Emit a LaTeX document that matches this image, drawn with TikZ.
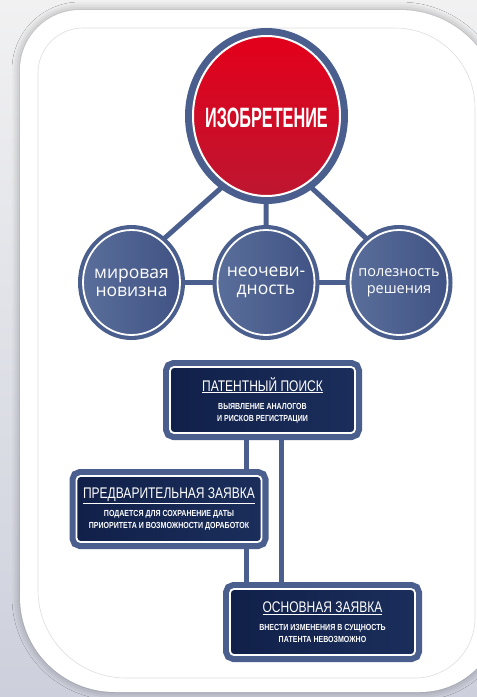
\documentclass[tikz,border=0pt]{standalone}
\usepackage{fontspec}
\setmainfont{Open Sans}
\newfontfamily\titlefont[FakeStretch=0.58]{Liberation Sans}
\newfontfamily\headfont[FakeStretch=0.78]{Liberation Sans}
\newfontfamily\notefont[FakeStretch=0.8]{Liberation Sans}
\usetikzlibrary{shapes.geometric,backgrounds,shadows.blur}

\definecolor{ringblue}{HTML}{4B5F8E}
\definecolor{discblue}{HTML}{5A6E9B}
\definecolor{discdark}{HTML}{405384}
\definecolor{navy}{HTML}{102049}
\definecolor{navylight}{HTML}{1B2E5B}
\definecolor{redtop}{HTML}{E3001B}
\definecolor{redlow}{HTML}{BE1630}
\definecolor{bgtop}{HTML}{F1F1F2}
\definecolor{bglow}{HTML}{CDD0DC}
\definecolor{edgegrey}{HTML}{DEDEDE}

\begin{document}
\begin{tikzpicture}[x=1pt,y=-1pt,
    link/.style={line width=5pt, draw=ringblue},
    card/.style={fill=white, blur shadow={shadow xshift=0pt, shadow yshift=0pt, shadow blur radius=8pt, shadow opacity=35}},
    bigdisc/.style={ellipse, minimum width=147pt, minimum height=160pt, inner sep=0pt, draw=white, line width=2pt,
        top color=redtop, bottom color=redlow, preaction={draw=ringblue, line width=16pt}},
    disc/.style={ellipse, minimum width=97pt, minimum height=105pt, inner sep=0pt, draw=white, line width=1.8pt,
        left color=discblue, right color=discdark, preaction={draw=ringblue, line width=10pt}},
    disctext/.style={text=white, align=center, font=\fontsize{17.5}{18}\selectfont},
    stepbox/.style={rectangle, rounded corners=4pt, minimum width=185pt, minimum height=66pt, draw=white, line width=1.8pt,
        left color=navy, right color=navylight, text=white, align=center, inner sep=2pt,
        font=\notefont\bfseries\fontsize{8.8}{12}\selectfont, preaction={draw=ringblue, line width=14pt}}]
    \useasboundingbox (0,0) rectangle (477,697);

    % circles
    \node[bigdisc, label={[text=white, yshift=-2pt, font=\titlefont\bfseries\fontsize{28}{28}\selectfont]center:ИЗОБРЕТЕНИЕ}] (inv) at (266.5,116) {};
    \node[disc, label={[disctext]center:{мировая\\новизна}}] (nov) at (131.5,282.5) {};
    \node[disc, label={[disctext]center:{неочеви-\\дность}}] (neo) at (266,282.5) {};
    \node[disc, label={[disctext, font=\fontsize{14.5}{17}\selectfont]center:{полезность\\решения}}] (pol) at (399,282.5) {};

    % steps
    \node[stepbox] (search) at (262.5,400) {{\headfont\mdseries\fontsize{15.4}{17}\selectfont\underline{ПАТЕНТНЫЙ ПОИСК}}\\[6pt]
        ВЫЯВЛЕНИЕ АНАЛОГОВ\\И РИСКОВ РЕГИСТРАЦИИ};
    \node[stepbox] (pre) at (169,509) {{\headfont\mdseries\fontsize{15.4}{17}\selectfont\underline{ПРЕДВАРИТЕЛЬНАЯ ЗАЯВКА}}\\[6pt]
        ПОДАЕТСЯ ДЛЯ СОХРАНЕНИЕ ДАТЫ\\ПРИОРИТЕТА И ВОЗМОЖНОСТИ ДОРАБОТОК};
    \node[stepbox] (main) at (322.5,622) {{\headfont\mdseries\fontsize{15.4}{17}\selectfont\underline{ОСНОВНАЯ ЗАЯВКА}}\\[6pt]
        ВНЕСТИ ИЗМЕНЕНИЯ В СУЩНОСТЬ\\ПАТЕНТА НЕВОЗМОЖНО};

    \begin{scope}[on background layer]
        \fill[top color=bgtop, bottom color=bglow] (0,0) rectangle (477,697);
        \path[card] (20,350) [rounded corners=60pt] |- (300,10) [rounded corners=100pt] -| (500,350)
            [rounded corners=80pt] |- (300,692) [rounded corners=95pt] -| (20,350) -- cycle;
        \draw[edgegrey, line width=0.6pt] (38,350) [rounded corners=45pt] |- (300,28) [rounded corners=80pt] -| (475,350)
            [rounded corners=60pt] |- (300,678) [rounded corners=88pt] -| (38,350) -- cycle;
        % connectors
        \draw[link] (inv.239) -- (nov.54);
        \draw[link] (inv) -- (neo);
        \draw[link] (inv.301) -- (pol.126);
        \draw[link] (nov) -- (neo);
        \draw[link] (neo) -- (pol);
        \coordinate (lt) at ([xshift=-16.5pt]search.south);
        \coordinate (rt) at ([xshift=18.5pt]search.south);
        \draw[link] (lt) -- (lt |- main.north);
        \draw[link] (rt) -- (rt |- main.north);
    \end{scope}
\end{tikzpicture}
\end{document}
